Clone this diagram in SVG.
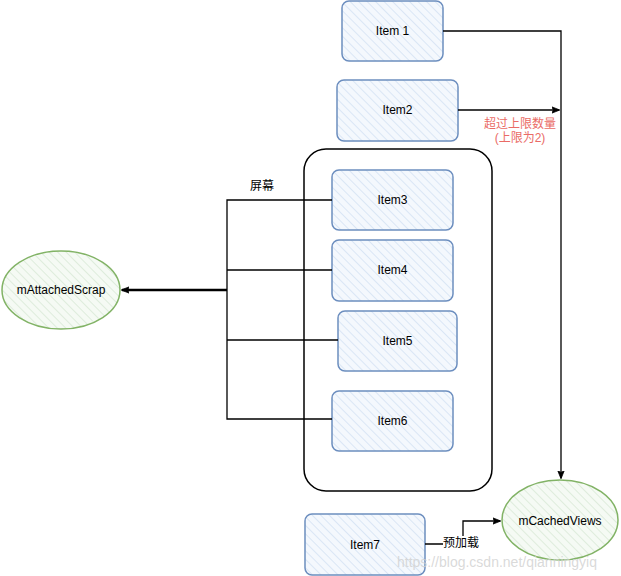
<svg xmlns="http://www.w3.org/2000/svg" width="621" height="576" viewBox="0 0 621 576">
<style>
text{font-family:"Liberation Sans",Arial,"Noto Sans CJK SC",sans-serif;font-size:12px;fill:#000;text-anchor:middle;dominant-baseline:central}
.item{fill:url(#hb);stroke:#6c8ebf;stroke-width:1.5}
.ell{fill:url(#hg);stroke:#82b366;stroke-width:1.5}
.ln{fill:none;stroke:#000;stroke-width:1.3}
.red{fill:#ea6b66}
</style>
<defs>
<pattern id="hb" width="6" height="6" patternUnits="userSpaceOnUse" patternTransform="rotate(-45)">
<rect width="6" height="6" fill="#f4f8fd"/><line x1="0" y1="0" x2="0" y2="6" stroke="#c9daf0" stroke-width="1.2"/>
</pattern>
<pattern id="hg" width="6" height="6" patternUnits="userSpaceOnUse" patternTransform="rotate(-45)">
<rect width="6" height="6" fill="#f5faf4"/><line x1="0" y1="0" x2="0" y2="6" stroke="#cfe3cc" stroke-width="1.2"/>
</pattern>
<marker id="ar" viewBox="0 0 10 10" refX="9" refY="5" markerWidth="8" markerHeight="8" orient="auto" markerUnits="userSpaceOnUse">
<path d="M0,1 L10,5 L0,9 L2,5 Z" fill="#000" stroke="#000" stroke-width="1"/>
</marker>
</defs>
<g id="screen"><rect x="304" y="149" width="188" height="342" rx="22" fill="none" stroke="#000" stroke-width="1.5"/><text x="262" y="186">屏幕</text></g>
<g id="item1"><rect class="item" x="342" y="1" width="101" height="60" rx="7"/><text x="392.5" y="31">Item 1</text></g>
<g id="item2"><rect class="item" x="337" y="80" width="121" height="61" rx="7"/><text x="397.5" y="110">Item2</text></g>
<g id="item3"><rect class="item" x="332" y="170" width="121" height="60" rx="7"/><text x="392.5" y="200">Item3</text></g>
<g id="item4"><rect class="item" x="332" y="240" width="121" height="61" rx="7"/><text x="392.5" y="270">Item4</text></g>
<g id="item5"><rect class="item" x="338" y="311" width="119" height="60" rx="7"/><text x="397.5" y="341">Item5</text></g>
<g id="item6"><rect class="item" x="332" y="391" width="121" height="60" rx="7"/><text x="392.5" y="421">Item6</text></g>
<g id="item7"><rect class="item" x="305" y="514" width="120" height="61" rx="7"/><text x="365" y="545">Item7</text></g>
<g id="mAttachedScrap"><ellipse class="ell" cx="61" cy="290" rx="59" ry="39"/><text x="61" y="290">mAttachedScrap</text></g>
<g id="mCachedViews"><ellipse class="ell" cx="560" cy="520" rx="58" ry="40"/><text x="560" y="521">mCachedViews</text></g>
<g id="connectors">
<path class="ln" d="M443,31 L561,31 L561,478" marker-end="url(#ar)"/>
<path class="ln" d="M458,110 L559,110" marker-end="url(#ar)"/>
<path class="ln" d="M332,200 L227,200 L227,419 L332,419"/>
<path class="ln" d="M332,270 L227,270"/>
<path class="ln" d="M338,340 L227,340"/>
<path class="ln" d="M227,290 L122,290" marker-end="url(#ar)" style="stroke-width:2.5"/>
<path class="ln" d="M425,544 L463,544 L463,521 L500,521" marker-end="url(#ar)"/>
<rect x="443" y="536" width="36" height="15" fill="#fff"/>
<text x="461" y="543">预加载</text>
<text class="red" x="520" y="124">超过上限数量</text>
<text class="red" x="520" y="138">(上限为2)</text>
</g>
<text x="497" y="562" style="font-size:14px;fill:#d0d0d0;fill-opacity:0.8">https://blog.csdn.net/qianningyiq</text>
</svg>
